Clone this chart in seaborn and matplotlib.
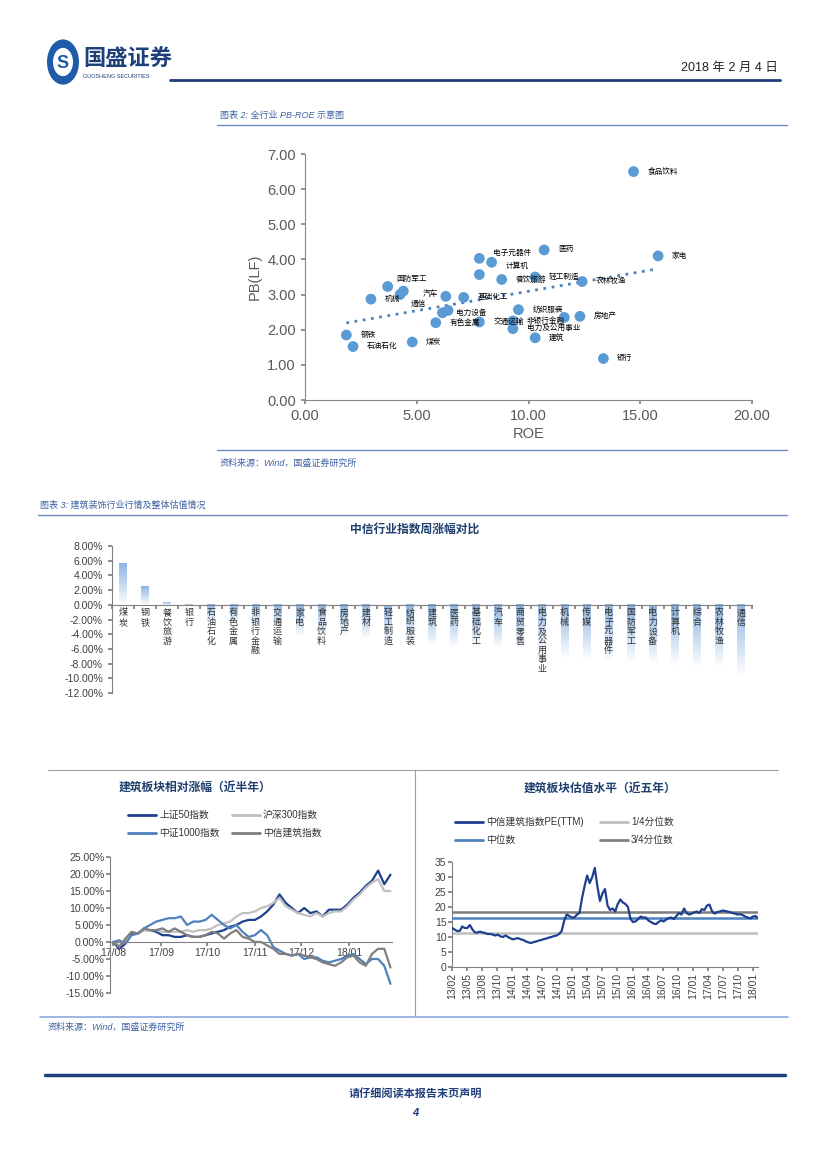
import numpy as np
import pandas as pd
import seaborn as sns
import matplotlib.pyplot as plt
from matplotlib.patches import Circle

# ---- figure 2: PB-ROE scatter ----
scatter_names = ['食品饮料', '医药', '家电', '电子元器件', '计算机', '传媒', '餐饮旅游', '轻工制造',
                 '农林牧渔', '国防军工', '汽车', '通信', '机械', '综合', '基础化工', '建材',
                 '电力设备', '有色金属', '交通运输', '纺织服装', '非银行金融', '电力及公用事业',
                 '商贸零售', '房地产', '建筑', '银行', '煤炭', '钢铁', '石油石化']
roe = [14.7, 10.7, 15.8, 7.8, 8.35, 7.8, 8.8, 10.3, 12.4, 3.7, 4.4, 4.25, 2.95, 6.3, 7.1,
       6.4, 6.15, 5.85, 7.8, 9.55, 9.3, 9.3, 11.6, 12.3, 10.3, 13.35, 4.8, 1.85, 2.15]
pb = [6.5, 4.27, 4.1, 4.03, 3.92, 3.57, 3.43, 3.5, 3.37, 3.23, 3.1, 3.0, 2.87, 2.95, 2.92,
      2.55, 2.48, 2.2, 2.22, 2.57, 2.25, 2.03, 2.35, 2.38, 1.77, 1.18, 1.65, 1.85, 1.52]
scatter_show = [True, True, True, True, True, False, True, True, True, True, True, True, True, False,
                True, False, True, True, True, True, True, True, False, True, True, True, True, True, True]
# label offsets in points (default is right of the marker)
label_offsets = {'电子元器件': (10, 4), '计算机': (10, -3), '国防军工': (6, 5), '汽车': (14, -2),
                 '通信': (8, -7)}

# ---- figure 3a: weekly change by industry ----
bar_names = ['煤炭', '钢铁', '餐饮旅游', '银行', '石油石化', '有色金属', '非银行金融', '交通运输',
             '家电', '食品饮料', '房地产', '建材', '轻工制造', '纺织服装', '建筑', '医药',
             '基础化工', '汽车', '商贸零售', '电力及公用事业', '机械', '传媒', '电子元器件',
             '国防军工', '电力设备', '计算机', '综合', '农林牧渔', '通信']
bar_values = [5.7, 2.5, 0.3, -0.2, -2.5, -2.8, -3.0, -3.3, -4.3, -4.3, -4.4, -4.7, -5.0, -5.2,
              -5.6, -5.9, -6.0, -6.0, -6.2, -6.4, -7.3, -7.7, -7.8, -7.9, -8.0, -8.3, -8.6, -8.6, -9.7]

# ---- figure 3b: relative change, last half year (every 4 days from 2017-08-01) ----
rel_dates = pd.date_range('2017-08-01', periods=46, freq='4D')
sz50 = [0, -2, -0.5, 2.5, 2.5, 3.5, 3.5, 3, 2, 2, 1.5, 1.5, 2, 1.5, 1.5, 2, 2.5, 3, 3.5, 4.5,
        5, 6, 6.5, 6.5, 7.5, 9, 11, 14, 11.5, 10, 8.5, 10, 8.5, 9, 7.5, 9.5, 9.5, 9.5, 11, 13,
        14.5, 16.5, 18, 21, 17, 19.8]
hs300 = [0, -1, 0.5, 2, 2.5, 3.5, 3.5, 3.5, 3, 3, 3, 3, 3.5, 3, 3.5, 3.5, 4, 5, 5.5, 6,
         7.5, 8.5, 8.5, 9, 10, 10.5, 11.5, 13, 10.5, 9.5, 8.5, 8, 7.5, 8.5, 7.5, 8.5, 9, 9, 10.5,
         12.5, 14, 16, 17.5, 18.5, 15, 15]
zz1000 = [0, 0.5, -0.5, 2, 2.5, 4, 5, 6, 6.5, 7, 7, 7.5, 5, 6, 6, 6.5, 8, 6.5, 5, 4,
          5, 3, 1.5, 2, 3.5, 2, -1.5, -2.5, -3.5, -4, -3.5, -5, -4.5, -4.5, -5.5, -6, -5.5, -5,
          -4, -3.5, -5, -6.5, -5, -5, -7, -12.3]
zxjz = [0, -1.5, 1, 3, 2.5, 4, 3.5, 3.5, 4, 3, 4, 3, 2, 1.5, 1.5, 2, 3, 2.5, 1, 2.5,
        3.5, 1.5, 1, 0, 0, -1, -2, -3.5, -3.5, -4, -3.5, -4, -4.5, -5, -6, -6.5, -7, -6, -4.5,
        -4, -6, -7, -3.5, -2, -2, -7.5]
rel_ticks = ['17/08', '17/09', '17/10', '17/11', '17/12', '18/01']

# ---- figure 3c: PE(TTM), semi-monthly from 2013-02 ----
pe = [13.0, 12.5, 12.0, 12.0, 13.5, 13.0, 13.0, 14.0, 12.5, 11.5, 11.5, 11.8, 11.5, 11.3,
      11.0, 11.0, 10.8, 10.5, 10.8, 10.2, 10.0, 10.5,
      10.0, 9.5, 9.2, 9.5, 9.6, 9.2, 9.0, 8.5, 8.2, 8.0, 8.3, 8.5, 8.8, 9.0, 9.3, 9.5,
      9.8, 10.0, 10.3, 10.5, 11.0, 12.0, 15.5, 17.5,
      17.0, 16.5, 16.5, 17.5, 18.0, 23.0, 27.0, 30.5, 28.0, 30.0, 33.0, 27.0, 22.0, 24.5,
      26.0, 20.5, 19.0, 19.5, 18.5, 21.0, 22.5, 21.5, 21.0, 20.0,
      16.0, 15.0, 15.2, 16.0, 16.8, 16.5, 16.5, 15.5, 15.0, 14.5, 14.3, 15.0, 15.5, 15.2,
      15.8, 16.3, 16.5, 16.0, 17.0, 18.0, 17.5, 19.5, 18.0, 17.5,
      17.8, 18.2, 18.5, 18.0, 19.3, 19.0, 20.5, 20.8, 18.5, 17.8, 18.3, 18.5, 18.8, 18.7,
      18.5, 18.3, 18.0, 17.8, 17.5, 17.6, 17.3, 16.8, 16.5, 16.2,
      16.8, 17.0, 16.3]
pe_q1, pe_med, pe_q3 = 11.3, 16.3, 18.2
pe_ticks = ['13/02', '13/05', '13/08', '13/10', '14/01', '14/04', '14/07', '14/10', '15/01',
            '15/04', '15/07', '15/10', '16/01', '16/04', '16/07', '16/10', '17/01', '17/04',
            '17/07', '17/10', '18/01']

NAVY = '#1F3F8F'
CAP = '#3E63A4'
GRAY_TXT = '#595959'

sns.set_theme(style='white')
plt.rcParams['font.family'] = ['Liberation Sans', 'Noto Sans CJK SC']
plt.rcParams['axes.unicode_minus'] = False

W, H = 827, 1169
fig = plt.figure(figsize=(W / 100, H / 100), dpi=100)


def px_axes(l, t, r, b):
    return fig.add_axes([l / W, 1 - b / H, (r - l) / W, (b - t) / H])


def ftext(x, y, s, **kw):
    fig.text(x / W, 1 - y / H, s, **kw)


def hline(x0, x1, y, color, lw):
    fig.add_artist(plt.Line2D([x0 / W, x1 / W], [1 - y / H, 1 - y / H], color=color, lw=lw))


def vline(x, y0, y1, color, lw):
    fig.add_artist(plt.Line2D([x / W, x / W], [1 - y0 / H, 1 - y1 / H], color=color, lw=lw))


# header
fig.add_artist(Circle((63 / W, 1 - 62 / H), 16 / W, transform=fig.transFigure,
                      facecolor='#1E5BA8', edgecolor='none'))
fig.add_artist(Circle((63 / W, 1 - 62 / H), 10 / W, transform=fig.transFigure,
                      facecolor='white', edgecolor='none'))
ftext(63, 63, 'S', ha='center', va='center', fontsize=13, fontweight='bold', color='#1E5BA8')
ftext(83, 60, '国盛证券', ha='left', va='center', fontsize=16, fontweight='bold', color='#1E3F7A')
ftext(83, 76, 'GUOSHENG SECURITIES', ha='left', va='center', fontsize=4, color='#1E3F7A')
ftext(778, 68, '2018 年 2 月 4 日', ha='right', va='center', fontsize=9, color='#222222')
hline(170, 780, 80, '#1F3E7C', 2)

# figure 2 caption
ftext(220, 115, '图表 2: 全行业 PB-ROE 示意图', ha='left', va='center', fontsize=6.5,
      color=CAP, style='italic')
hline(217, 787, 125, '#6C8CC0', 1)

ax1 = px_axes(305, 154, 752, 400)
df_sc = pd.DataFrame({'ROE': roe, 'PB(LF)': pb, 'name': scatter_names})
sns.scatterplot(data=df_sc, x='ROE', y='PB(LF)', ax=ax1, s=60, color='#5B9BD5',
                edgecolor='none', zorder=3)
k, b0 = np.polyfit(roe, pb, 1)
xs = np.array([min(roe), max(roe)])
ax1.plot(xs, k * xs + b0, ls=(0, (1, 2)), lw=2, color='#4F81BD', zorder=2)
for nm, xv, yv, show in zip(scatter_names, roe, pb, scatter_show):
    if show:
        ax1.annotate(nm, (xv, yv), xytext=label_offsets.get(nm, (10, 0)),
                     textcoords='offset points', va='center', ha='left', fontsize=5.5,
                     color='black')
ax1.set_xlim(0, 20)
ax1.set_ylim(0, 7)
ax1.set_xticks(np.arange(0, 21, 5))
ax1.set_yticks(np.arange(0, 8, 1))
ax1.xaxis.set_major_formatter(plt.FuncFormatter(lambda v, p: f'{v:.2f}'))
ax1.yaxis.set_major_formatter(plt.FuncFormatter(lambda v, p: f'{v:.2f}'))
for s in ['top', 'right']:
    ax1.spines[s].set_visible(False)
for s in ['left', 'bottom']:
    ax1.spines[s].set_color('#868686')
    ax1.spines[s].set_linewidth(0.8)
ax1.tick_params(axis='both', labelsize=10.5, colors=GRAY_TXT, length=3, direction='out',
                color='#868686', bottom=True, left=True)
ax1.set_xlabel('ROE', fontsize=10.5, color=GRAY_TXT, labelpad=3)
ax1.set_ylabel('PB(LF)', fontsize=10.5, color=GRAY_TXT, labelpad=4)

hline(217, 787, 450, '#6C8CC0', 1)
ftext(220, 463, '资料来源：Wind，国盛证券研究所', ha='left', va='center', fontsize=6.5,
      color=CAP, style='italic')

# figure 3 caption
ftext(40, 505, '图表 3: 建筑装饰行业行情及整体估值情况', ha='left', va='center', fontsize=6.5,
      color=CAP, style='italic')
hline(38, 787, 515, '#6C8CC0', 1)

# bar chart
ftext(415, 530, '中信行业指数周涨幅对比', ha='center', va='center', fontsize=8.5,
      fontweight='bold', color='#1F3F6F')
ax2 = px_axes(112, 546, 752, 693)
df_bar = pd.DataFrame({'industry': bar_names, 'chg': bar_values})
sns.barplot(data=df_bar, x='industry', y='chg', ax=ax2, width=0.35, color='#9DC3E6')
grad = np.linspace(0, 1, 100).reshape(-1, 1)
cmap = sns.blend_palette(['#8DB4E2', '#FFFFFF'], as_cmap=True)
for p in ax2.patches:
    x0, w = p.get_x(), p.get_width()
    h = p.get_height()
    img = grad if h < 0 else grad[::-1]
    ax2.imshow(img, extent=[x0, x0 + w, min(0, h), max(0, h)], aspect='auto', cmap=cmap,
               origin='upper' if h < 0 else 'lower', zorder=2, clip_path=p, clip_on=True)
    p.set_facecolor('none')
    p.set_edgecolor('none')
for i, nm in enumerate(bar_names):
    ax2.text(i, -0.5, '\n'.join(nm), ha='center', va='top', fontsize=6.5, color='#333333',
             linespacing=1.05, zorder=4)
ax2.set_xlim(-0.5, len(bar_names) - 0.5)
ax2.set_ylim(-12, 8)
ax2.set_yticks(np.arange(-12, 9, 2))
ax2.yaxis.set_major_formatter(plt.FuncFormatter(lambda v, p: f'{v:.2f}%'))
ax2.spines['bottom'].set_position(('data', 0))
for s in ['top', 'right']:
    ax2.spines[s].set_visible(False)
for s in ['left', 'bottom']:
    ax2.spines[s].set_color('#808080')
    ax2.spines[s].set_linewidth(0.8)
ax2.set_xticks(np.arange(-0.5, len(bar_names), 1))
ax2.set_xticklabels([])
ax2.tick_params(axis='x', length=3, direction='out', color='#808080', bottom=True)
ax2.tick_params(axis='y', labelsize=7.5, colors='#404040', length=3, direction='out',
                color='#808080', left=True)
ax2.set_xlabel('')
ax2.set_ylabel('')

# separators of lower panel
hline(48, 778, 770, '#A0A0A0', 0.8)
vline(415, 770, 1016, '#A0A0A0', 0.8)

# left line chart
ftext(195, 788, '建筑板块相对涨幅（近半年）', ha='center', va='center', fontsize=8.5,
      fontweight='bold', color='#1F3F6F')
ax3 = px_axes(110, 857, 392, 993)
df_rel = pd.DataFrame({'date': rel_dates, '上证50指数': sz50, '沪深300指数': hs300,
                       '中证1000指数': zz1000, '中信建筑指数': zxjz})
df_rel = df_rel.melt(id_vars='date', var_name='series', value_name='chg')
rel_pal = {'上证50指数': NAVY, '沪深300指数': '#C0C0C0', '中证1000指数': '#4F81BD',
           '中信建筑指数': '#7F7F7F'}
sns.lineplot(data=df_rel, x='date', y='chg', hue='series', palette=rel_pal, ax=ax3, lw=1.6,
             legend=False)
ax3.set_ylim(-15, 25)
ax3.set_xlim(pd.Timestamp('2017-07-30'), rel_dates[-1] + pd.Timedelta(days=1))
ax3.set_yticks(np.arange(-15, 26, 5))
ax3.yaxis.set_major_formatter(plt.FuncFormatter(lambda v, p: f'{v:.2f}%'))
ax3.set_xticks(pd.to_datetime(['2017-08-01', '2017-09-01', '2017-10-01', '2017-11-01',
                               '2017-12-01', '2018-01-01']))
ax3.set_xticklabels(rel_ticks)
ax3.spines['bottom'].set_position(('data', 0))
for s in ['top', 'right']:
    ax3.spines[s].set_visible(False)
for s in ['left', 'bottom']:
    ax3.spines[s].set_color('#808080')
    ax3.spines[s].set_linewidth(0.8)
ax3.tick_params(axis='both', labelsize=7.5, colors='#404040', length=3, direction='out',
                color='#808080', left=True, bottom=True, pad=1)
ax3.set_xlabel('')
ax3.set_ylabel('')
rel_leg = [('上证50指数', 128, 815), ('沪深300指数', 232, 815),
           ('中证1000指数', 128, 833), ('中信建筑指数', 232, 833)]
for nm, lx, ly in rel_leg:
    fig.add_artist(plt.Line2D([lx / W, (lx + 28) / W], [1 - ly / H, 1 - ly / H],
                              color=rel_pal[nm], lw=2))
    ftext(lx + 31, ly, nm, ha='left', va='center', fontsize=7, color='#333333')

# right line chart
ftext(600, 789, '建筑板块估值水平（近五年）', ha='center', va='center', fontsize=8.5,
      fontweight='bold', color='#1F3F6F')
ax4 = px_axes(452, 862, 758, 967)
df_pe = pd.DataFrame({'idx': np.arange(len(pe)), 'pe': pe})
sns.lineplot(data=df_pe, x='idx', y='pe', ax=ax4, color=NAVY, lw=1.6, zorder=4)
ax4.axhline(pe_q1, color='#BFBFBF', lw=1.8, zorder=2)
ax4.axhline(pe_med, color='#4F81BD', lw=1.8, zorder=3)
ax4.axhline(pe_q3, color='#7F7F7F', lw=1.8, zorder=2)
ax4.set_ylim(0, 35)
ax4.set_xlim(0, len(pe) - 1)
ax4.set_yticks(np.arange(0, 36, 5))
ax4.set_xticks(np.linspace(0, 118, len(pe_ticks)))
ax4.set_xticklabels(pe_ticks, rotation=90)
for s in ['top', 'right']:
    ax4.spines[s].set_visible(False)
for s in ['left', 'bottom']:
    ax4.spines[s].set_color('#808080')
    ax4.spines[s].set_linewidth(0.8)
ax4.tick_params(axis='both', labelsize=7.5, colors='#404040', length=3, direction='out',
                color='#808080', left=True, bottom=True, pad=1)
ax4.set_xlabel('')
ax4.set_ylabel('')
pe_leg = [('中信建筑指数PE(TTM)', NAVY, 455, 822), ('1/4分位数', '#BFBFBF', 600, 822),
          ('中位数', '#4F81BD', 455, 840), ('3/4分位数', '#7F7F7F', 600, 840)]
for nm, c, lx, ly in pe_leg:
    fig.add_artist(plt.Line2D([lx / W, (lx + 28) / W], [1 - ly / H, 1 - ly / H], color=c, lw=2))
    ftext(lx + 31, ly, nm, ha='left', va='center', fontsize=7, color='#333333')

hline(40, 788, 1017, '#8EA9DB', 1.2)
ftext(48, 1027, '资料来源：Wind，国盛证券研究所', ha='left', va='center', fontsize=6.5,
      color=CAP, style='italic')

# footer
hline(45, 785, 1075, '#1F3E7C', 2.5)
ftext(415, 1093, '请仔细阅读本报告末页声明', ha='center', va='center', fontsize=8,
      fontweight='bold', color='#1F3E7C', style='italic')
ftext(415, 1113, '4', ha='center', va='center', fontsize=8, fontweight='bold',
      color='#1F3E7C', style='italic')

fig.savefig('out.png', dpi=100)
